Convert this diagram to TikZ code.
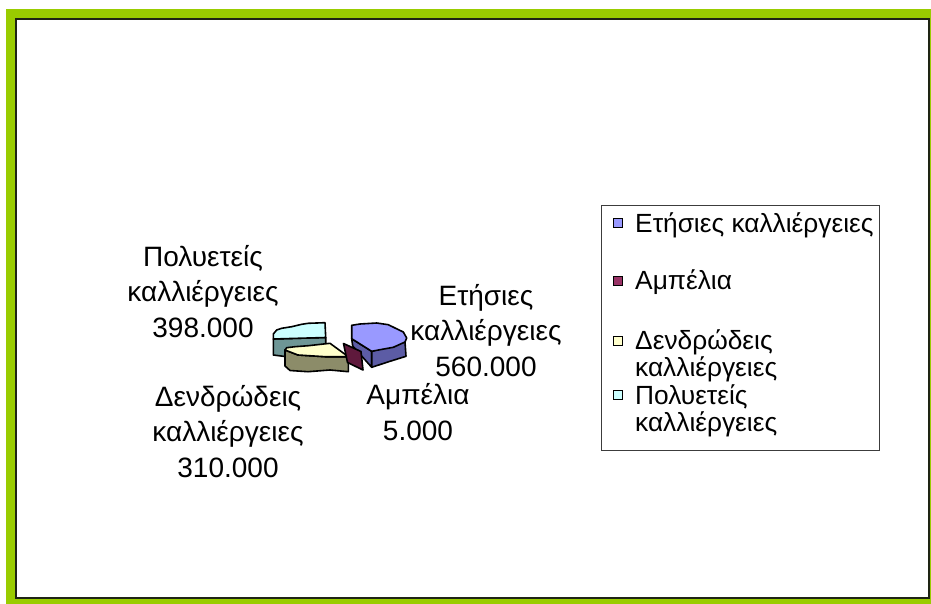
\documentclass[tikz,border=0pt]{standalone}
\usepackage{fontspec}
\setmainfont{Liberation Sans}
\begin{document}
\begin{tikzpicture}[x=1pt,y=-1pt,
  lbl/.style={font=\fontsize{28}{35.5}\selectfont, align=center, anchor=base, inner sep=0pt},
  lgd/.style={font=\fontsize{26.3}{27.4}\selectfont, align=left, anchor=base west, inner sep=0pt},
  swatch/.style={draw=black, line width=0.9pt, minimum size=9pt, inner sep=0pt},
  slice/.style={draw=black, line width=1.6pt, line join=round}]
\useasboundingbox (0,0) rectangle (931,604);
\fill[white] (0,0) rectangle (931,604);
% green frame
\fill[fill={rgb,255:red,153;green,204;blue,0}] (6,9) rectangle (931,604);
\filldraw[fill=white, draw={rgb,255:red,30;green,36;blue,20}, line width=1.6pt] (16,19) rectangle (929,598);
% ---- pie: Πολυετείς (cyan)
\filldraw[slice, fill={rgb,255:red,110;green,150;blue,150}]
  (273.3,339) -- (325.7,337.5) -- (325.7,345) -- (285,350) -- (285,356.5) -- (273.3,355) -- cycle;
\filldraw[slice, fill={rgb,255:red,204;green,255;blue,255}]
  (273.3,334) -- (276.7,330) -- (281.7,328.3) -- (291.7,326.7) -- (301.7,324.3) -- (308.3,323.3) -- (325,322.7) -- (325.7,337.5) -- (273.3,339) -- cycle;
% ---- Δενδρώδεις (yellow)
\filldraw[slice, fill={rgb,255:red,140;green,140;blue,105}]
  (285,350) -- (298,355) -- (325,356.7) -- (348.3,356.7) -- (348.3,371.7) -- (330,370) -- (308,371.7) -- (290,370.5) -- (285,366) -- cycle;
\filldraw[slice, fill={rgb,255:red,255;green,255;blue,204}]
  (285,350) -- (286.7,347.7) -- (295,346.7) -- (308.3,345.7) -- (330,343.3) -- (348.3,356.7) -- (325,356.7) -- (298,355) -- cycle;
% ---- Ετήσιες (blue)
\filldraw[slice, fill={rgb,255:red,92;green,92;blue,165}]
  (351.7,338.7) -- (371.7,351.3) -- (371.7,367.3) -- (352.7,346) -- cycle;
\filldraw[slice, fill={rgb,255:red,92;green,92;blue,165}]
  (371.7,351.3) -- (405,342) -- (406,356.3) -- (390,361.3) -- (371.7,367.3) -- cycle;
\filldraw[slice, fill={rgb,255:red,153;green,153;blue,255}]
  (351.7,325.3) -- (360,324) -- (376.7,323) -- (388.3,324.7) -- (395,328) -- (403.3,332) -- (406.7,338) -- (405,342) -- (393.3,347.3) -- (380,349.7) -- (371.7,351.3) -- (351.7,338.7) -- cycle;
% ---- Αμπέλια (maroon)
\filldraw[slice, fill={rgb,255:red,95;green,25;blue,60}]
  (343.5,343.5) -- (361,351.5) -- (363,370) -- (347.5,362.5) -- cycle;
% ---- data labels (anchored at the baseline of the last line)
\node[lbl] (lpol) at (203,337) {Πολυετείς\\καλλιέργειες\\398.000};
\node[lbl] (lden) at (228,477) {Δενδρώδεις\\καλλιέργειες\\310.000};
\node[lbl] (let) at (486,376) {Ετήσιες\\καλλιέργειες\\560.000};
\node[lbl] (lamp) at (418,440) {Αμπέλια\\5.000};
% ---- legend
\draw[draw={rgb,255:red,60;green,60;blue,60}, line width=1pt] (601,205) rectangle (879,450);
\node[swatch, fill={rgb,255:red,153;green,153;blue,255}] (s1) at (618,223) {};
\node[swatch, fill={rgb,255:red,153;green,51;blue,102}] (s2) at (618,280.5) {};
\node[swatch, fill={rgb,255:red,255;green,255;blue,204}] (s3) at (618,340.5) {};
\node[swatch, fill={rgb,255:red,204;green,255;blue,255}] (s4) at (618,394.5) {};
\node[lgd] (t1) at (635,232.7) {Ετήσιες καλλιέργειες};
\node[lgd] (t2) at (635,289.3) {Αμπέλια};
\node[lgd] (t3) at (635,376.7) {Δενδρώδεις\\καλλιέργειες};
\node[lgd] (t4) at (635,431.7) {Πολυετείς\\καλλιέργειες};
\end{tikzpicture}
\end{document}
